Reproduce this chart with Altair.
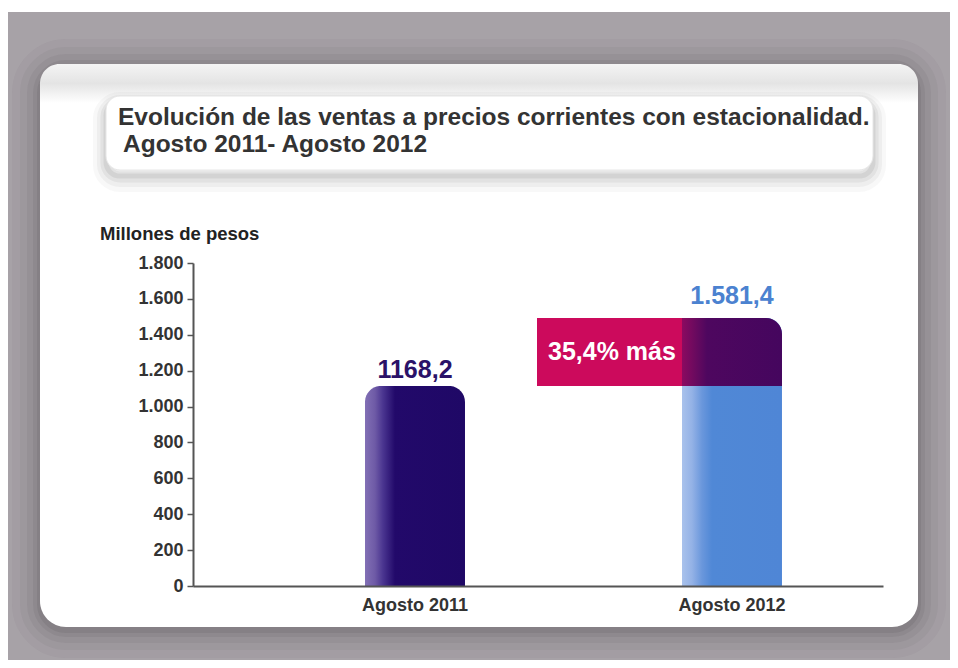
import altair as alt
import pandas as pd

# ---------------- data ----------------
categories = ["Agosto 2011", "Agosto 2012"]
bar_values = [1115, 1494]            # bar heights as drawn (millones de pesos)
value_labels = ["1168,2", "1.581,4"]  # printed values
y_ticks = [0, 200, 400, 600, 800, 1000, 1200, 1400, 1600, 1800]
title_lines = ["Evolución de las ventas a precios corrientes con estacionalidad.",
               "Agosto 2011- Agosto 2012"]
y_title = "Millones de pesos"
change_label = "35,4% más"

FONT = "Liberation Sans"

df = pd.DataFrame({"cat": categories, "value": bar_values, "label": value_labels})
diff_df = pd.DataFrame({"cat": [categories[1]], "low": [bar_values[0]], "high": [bar_values[1]],
                        "mid": [(bar_values[0] + bar_values[1]) / 2], "text": [change_label]})
one = pd.DataFrame({"k": [0]})

W, H = 690, 323
PL, PT = 185, 255
PR, PB = 942 - PL - W, 652 - PT - H

xscale = alt.Scale(domain=categories, paddingInner=0.6845, paddingOuter=0.4306, align=0.63)
yscale = alt.Scale(domain=[0, 1800], nice=False, zero=True)

xaxis = alt.Axis(title=None, ticks=False, labelFont=FONT, labelFontSize=18,
                 labelFontWeight="bold", labelColor="#333333", labelPadding=10,
                 labelAngle=0, domainColor="#555555", domainWidth=2, zindex=1)
yaxis = alt.Axis(title=None, values=y_ticks, grid=False, tickSize=6, tickWidth=1.5,
                 tickColor="#555555", domainColor="#555555", domainWidth=2,
                 labelFont=FONT, labelFontSize=18, labelFontWeight="bold",
                 labelColor="#333333", labelPadding=4, zindex=1,
                 labelOverlap=False, labelFlush=False,
                 labelExpr="replace(format(datum.value, ','), ',', '.')")


def X():
    return alt.X("cat:N", scale=xscale, sort=categories, axis=xaxis)


def Y(field):
    return alt.Y(field, scale=yscale, axis=yaxis)


def grad(stops, vertical=False):
    return alt.LinearGradient(gradient="linear", x1=0, x2=0 if vertical else 1, y1=0, y2=1 if vertical else 0,
                              stops=[alt.GradientStop(color=c, offset=o) for o, c in stops])


def box(x1, x2, y1, y2, **kw):
    return alt.Chart(one).mark_rect(**kw).encode(
        x=alt.value(x1), x2=alt.value(x2), y=alt.value(y1), y2=alt.value(y2))


# background decorations (pixel coordinates relative to plot origin)
layers = []
layers.append(box(-PL, W + PR, -PT, -PT + 4, color="white"))
# card shadow
for sw, op in [(56, 0.035), (40, 0.045), (26, 0.06), (14, 0.07), (6, 0.09)]:
    layers.append(box(-153, 725, -199 + 3, 364 + 3, fill=None, stroke="#2e2a2e",
                      strokeWidth=sw, strokeOpacity=op, cornerRadius=26))
layers.append(box(-153, 725, -199, 364, color="white", cornerRadius=26))
layers.append(box(-153, 725, -199, -160, color=grad([(0, "#f4f4f4"), (0.5, "#e4e4e4"), (1, "#ffffff")], True),
                  cornerRadiusTopLeft=26, cornerRadiusTopRight=26))
# title box shadow + box
for dy, sw, op in [(9, 26, 0.035), (8, 18, 0.05), (7, 11, 0.07), (6, 5, 0.09)]:
    layers.append(box(-87, 680, -167 + dy, -93 + dy, fill=None, stroke="#444",
                      strokeWidth=sw, strokeOpacity=op, cornerRadius=14))
layers.append(box(-87, 680, -167, -93, color="white", cornerRadius=14, stroke="#e6e6e6", strokeWidth=1))

# title text
layers.append(alt.Chart(one).mark_text(text=title_lines[0], font=FONT, fontSize=24.5, fontWeight="bold",
                                       color="#333333", align="left", baseline="middle")
              .encode(x=alt.value(-75), y=alt.value(-145)))
layers.append(alt.Chart(one).mark_text(text=title_lines[1], font=FONT, fontSize=24.5, fontWeight="bold",
                                       color="#333333", align="left", baseline="middle")
              .encode(x=alt.value(-70), y=alt.value(-118)))
layers.append(alt.Chart(one).mark_text(text=y_title, font=FONT, fontSize=18.5, fontWeight="bold",
                                       color="#222222", align="left", baseline="middle")
              .encode(x=alt.value(-93), y=alt.value(-29)))

# bars
bar_2011 = alt.Chart(df).transform_filter(alt.datum.cat == categories[0]).mark_bar(
    cornerRadiusTopLeft=16, cornerRadiusTopRight=16,
    color=grad([(0, "#8270b5"), (0.1, "#6e5aa6"), (0.18, "#4a3590"), (0.3, "#22096a"), (1, "#1f0866")])
).encode(x=X(), y=Y("value:Q"))
bar_2012 = alt.Chart(df).transform_filter(alt.datum.cat == categories[1]).mark_bar(
    cornerRadiusTopLeft=16, cornerRadiusTopRight=16,
    color=grad([(0, "#a9c2ec"), (0.1, "#94b2e6"), (0.2, "#6a97dc"), (0.3, "#5088d6"), (1, "#4f86d6")])
).encode(x=X(), y=Y("value:Q"))

pink = alt.Chart(diff_df).mark_rect(color="#cc0a5c").encode(
    x=alt.value(344), x2=alt.value(500), y=Y("low:Q"), y2="high:Q")
overlap = alt.Chart(diff_df).mark_bar(
    cornerRadiusTopRight=16,
    color=grad([(0, "#8c0a60"), (0.12, "#6e0a5f"), (0.25, "#4e075f"), (1, "#45065e")])
).encode(x=X(), y=Y("low:Q"), y2="high:Q")
pink_text = alt.Chart(diff_df).mark_text(font=FONT, fontSize=25, fontWeight="bold", color="white",
                                         align="left", baseline="middle").encode(
    x=alt.value(355), y=Y("mid:Q"), text="text:N")

lab_2011 = alt.Chart(df).transform_filter(alt.datum.cat == categories[0]).mark_text(
    font=FONT, fontSize=25, fontWeight="bold", color="#2b1268", baseline="middle", dy=-16
).encode(x=X(), y=Y("value:Q"), text="label:N")
lab_2012 = alt.Chart(df).transform_filter(alt.datum.cat == categories[1]).mark_text(
    font=FONT, fontSize=25, fontWeight="bold", color="#4b82d0", baseline="middle", dy=-22
).encode(x=X(), y=Y("value:Q"), text="label:N")

chart = alt.layer(*layers, bar_2011, bar_2012, pink, overlap, pink_text, lab_2011, lab_2012).properties(
    width=W, height=H, autosize=alt.AutoSizeParams(type="none"),
    padding={"left": PL, "top": PT, "right": PR, "bottom": PB},
    background="#a7a2a7"
).configure_view(stroke=None)

chart.save("out.html", embed_options={"renderer": "svg", "actions": False})
